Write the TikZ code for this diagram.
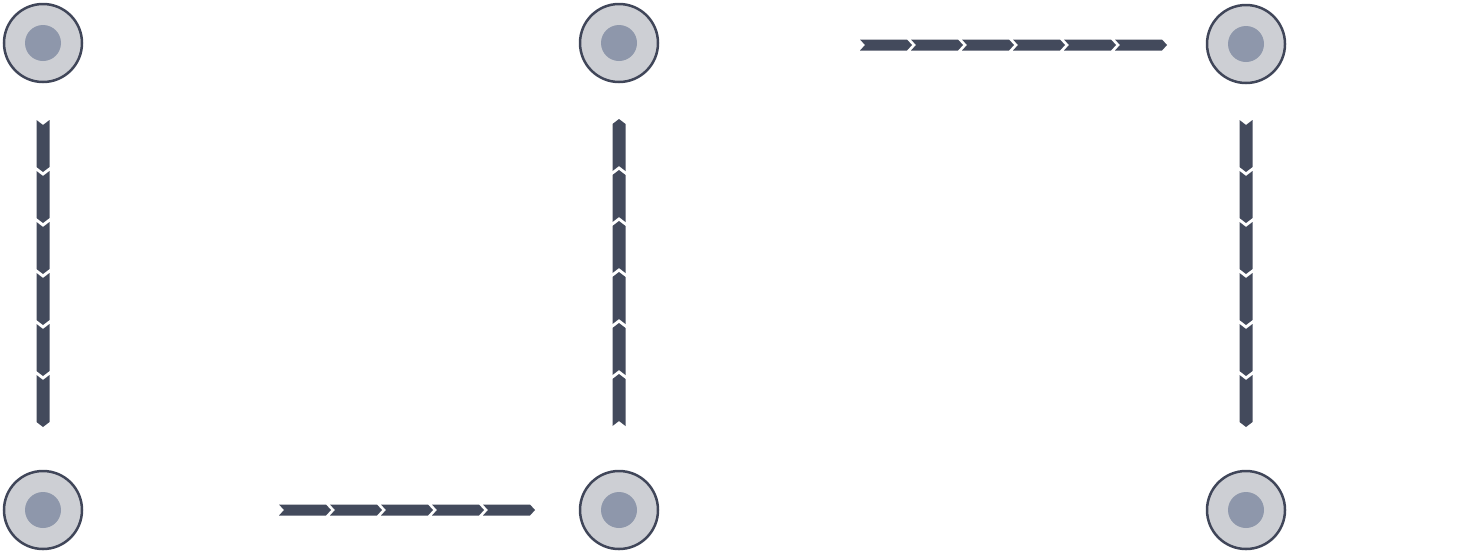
\documentclass[tikz,border=0pt]{standalone}
\usetikzlibrary{calc}
\definecolor{ringfill}{HTML}{CDCFD4}
\definecolor{ringdraw}{HTML}{404659}
\definecolor{corefill}{HTML}{8E97AB}
\definecolor{chevfill}{HTML}{434A5C}
\tikzset{
  x=1pt,y=-1pt,
  station/.style={circle,draw=ringdraw,line width=2.5pt,fill=ringfill,minimum size=78pt,inner sep=0pt,
    path picture={\fill[corefill] (path picture bounding box.center) circle[radius=18pt];}},
  pics/chevrow/.style 2 args={code={
    \foreach \i in {1,...,#1}{
      \pgfmathsetmacro{\s}{(\i-1)*51}
      \fill[chevfill] (\s,-#2) -- (\s+5,0) -- (\s,#2) -- (\s+47,#2) -- (\s+52,0) -- (\s+47,-#2) -- cycle;
    }
  }}
}
\begin{document}
\begin{tikzpicture}
\useasboundingbox (0,0) rectangle (1458,558);
\node[station] (n1) at (43,43) {};
\node[station] (n2) at (619,43) {};
\node[station] (n3) at (1246,44) {};
\node[station] (n4) at (43,510) {};
\node[station] (n5) at (619,510) {};
\node[station] (n6) at (1246,510) {};
% connectors (chevron rows)
\coordinate (a1) at ($(n1)+(0,77)$);
\coordinate (a2) at ($(n5)+(0,-84)$);
\coordinate (a3) at ($(n3)+(0,76)$);
\coordinate (a4) at ($(n3)+(-386,1)$);
\coordinate (a5) at ($(n4)+(236,0)$);
\pic[rotate=-90] at (a1) {chevrow={6}{6.5}};
\pic[rotate=90] at (a2) {chevrow={6}{6.5}};
\pic[rotate=-90] at (a3) {chevrow={6}{6.5}};
\pic at (a4) {chevrow={6}{5.5}};
\pic at (a5) {chevrow={5}{5.5}};
\end{tikzpicture}
\end{document}
